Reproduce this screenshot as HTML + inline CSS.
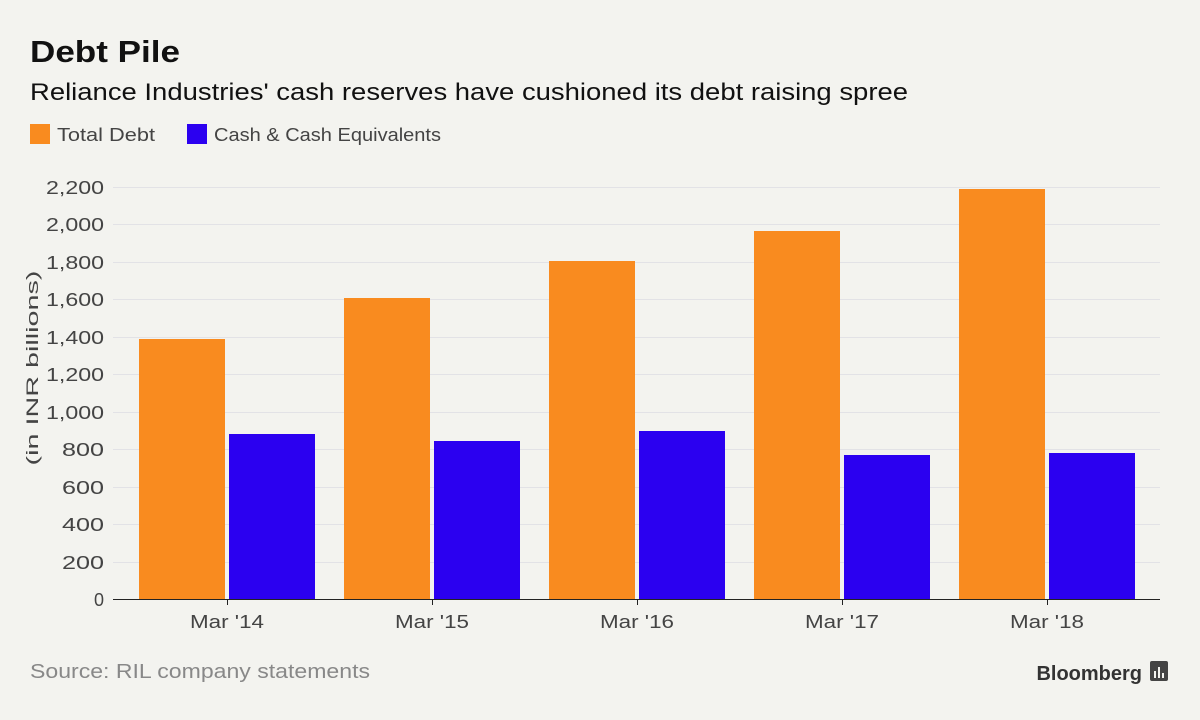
<!DOCTYPE html>
<html><head><meta charset="utf-8"><style>
body{margin:0;width:1200px;height:715px;background:#f3f3ef;font-family:"Liberation Sans",sans-serif;overflow:hidden}
</style></head><body>
<svg width="1200" height="715" xmlns="http://www.w3.org/2000/svg" font-family="Liberation Sans, sans-serif">
<rect width="1200" height="715" fill="#f3f3ef"/>
<text x="30" y="62" font-size="31" font-weight="bold" fill="#111" textLength="150" lengthAdjust="spacingAndGlyphs">Debt Pile</text>
<text x="30" y="100" font-size="24" fill="#111" textLength="878" lengthAdjust="spacingAndGlyphs">Reliance Industries' cash reserves have cushioned its debt raising spree</text>
<rect x="30" y="124" width="20" height="20" fill="#f98b1f"/>
<text x="57" y="141" font-size="18" fill="#444" textLength="98" lengthAdjust="spacingAndGlyphs">Total Debt</text>
<rect x="187" y="124" width="20" height="20" fill="#2b00f0"/>
<text x="214" y="141" font-size="18" fill="#444" textLength="227" lengthAdjust="spacingAndGlyphs">Cash &amp; Cash Equivalents</text>
<g stroke="#e2e2e6" stroke-width="1">
<line x1="113" x2="1160" y1="187.5" y2="187.5"/><line x1="113" x2="1160" y1="224.5" y2="224.5"/>
<line x1="113" x2="1160" y1="262.5" y2="262.5"/><line x1="113" x2="1160" y1="299.5" y2="299.5"/>
<line x1="113" x2="1160" y1="337.5" y2="337.5"/><line x1="113" x2="1160" y1="374.5" y2="374.5"/>
<line x1="113" x2="1160" y1="412.5" y2="412.5"/><line x1="113" x2="1160" y1="449.5" y2="449.5"/>
<line x1="113" x2="1160" y1="487.5" y2="487.5"/><line x1="113" x2="1160" y1="524.5" y2="524.5"/>
<line x1="113" x2="1160" y1="562.5" y2="562.5"/>
</g>
<g font-size="18" fill="#444" text-anchor="end">
<text x="104" y="194" textLength="58" lengthAdjust="spacingAndGlyphs">2,200</text><text x="104" y="231" textLength="58" lengthAdjust="spacingAndGlyphs">2,000</text><text x="104" y="269" textLength="58" lengthAdjust="spacingAndGlyphs">1,800</text>
<text x="104" y="306" textLength="58" lengthAdjust="spacingAndGlyphs">1,600</text><text x="104" y="344" textLength="58" lengthAdjust="spacingAndGlyphs">1,400</text><text x="104" y="381" textLength="58" lengthAdjust="spacingAndGlyphs">1,200</text>
<text x="104" y="419" textLength="58" lengthAdjust="spacingAndGlyphs">1,000</text><text x="104" y="456" textLength="42" lengthAdjust="spacingAndGlyphs">800</text><text x="104" y="494" textLength="42" lengthAdjust="spacingAndGlyphs">600</text>
<text x="104" y="531" textLength="42" lengthAdjust="spacingAndGlyphs">400</text><text x="104" y="569" textLength="42" lengthAdjust="spacingAndGlyphs">200</text><text x="104" y="606">0</text>
</g>
<text transform="translate(38,368) rotate(-90)" font-size="17" fill="#444" text-anchor="middle" textLength="195" lengthAdjust="spacingAndGlyphs">(in INR billions)</text>
<g fill="#f98b1f">
<rect x="139" y="339" width="86" height="260"/>
<rect x="344" y="298" width="86" height="301"/>
<rect x="549" y="261" width="86" height="338"/>
<rect x="754" y="231" width="86" height="368"/>
<rect x="959" y="189" width="86" height="410"/>
</g>
<g fill="#2b00f0">
<rect x="229" y="434" width="86" height="165"/>
<rect x="434" y="441" width="86" height="158"/>
<rect x="639" y="431" width="86" height="168"/>
<rect x="844" y="455" width="86" height="144"/>
<rect x="1049" y="453" width="86" height="146"/>
</g>
<line x1="113" x2="1160" y1="599.5" y2="599.5" stroke="#222" stroke-width="1"/>
<g stroke="#222"><line x1="227.5" x2="227.5" y1="599" y2="605"/><line x1="432.5" x2="432.5" y1="599" y2="605"/><line x1="637.5" x2="637.5" y1="599" y2="605"/><line x1="842.5" x2="842.5" y1="599" y2="605"/><line x1="1047.5" x2="1047.5" y1="599" y2="605"/></g>
<g font-size="18" fill="#444" text-anchor="middle">
<text x="227" y="628" textLength="74" lengthAdjust="spacingAndGlyphs">Mar '14</text><text x="432" y="628" textLength="74" lengthAdjust="spacingAndGlyphs">Mar '15</text><text x="637" y="628" textLength="74" lengthAdjust="spacingAndGlyphs">Mar '16</text><text x="842" y="628" textLength="74" lengthAdjust="spacingAndGlyphs">Mar '17</text><text x="1047" y="628" textLength="74" lengthAdjust="spacingAndGlyphs">Mar '18</text>
</g>
<text x="30" y="678" font-size="20" fill="#888" textLength="340" lengthAdjust="spacingAndGlyphs">Source: RIL company statements</text>
<text x="1142" y="680" font-size="20" font-weight="bold" fill="#333" text-anchor="end">Bloomberg</text>
<rect x="1150" y="661" width="18" height="20" rx="2" fill="#444"/>
<g fill="#f3f3ef"><rect x="1154" y="671" width="2" height="7"/><rect x="1158" y="667" width="2" height="11"/><rect x="1162" y="673" width="2" height="5"/></g>
</svg>
</body></html>
